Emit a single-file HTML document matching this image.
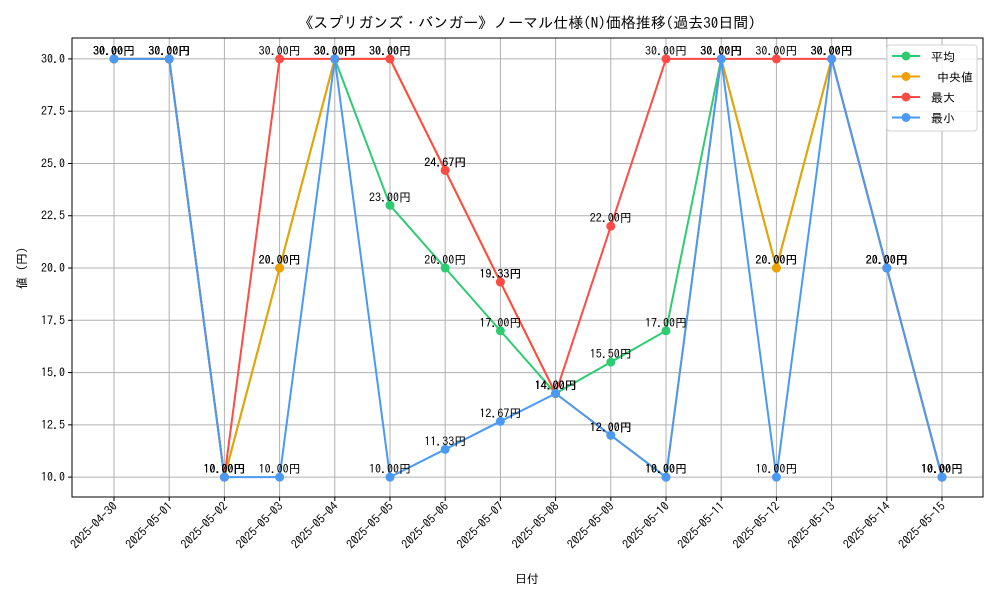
<!DOCTYPE html>
<html><head><meta charset="utf-8"><style>
body{margin:0;background:#fff}
svg{display:block;font-family:"IPAGothic","Noto Sans CJK JP",sans-serif}
</style></head><body>
<svg id="c" width="1000" height="600"></svg>
<script>
const dates=["2025-04-30","2025-05-01","2025-05-02","2025-05-03","2025-05-04","2025-05-05","2025-05-06","2025-05-07","2025-05-08","2025-05-09","2025-05-10","2025-05-11","2025-05-12","2025-05-13","2025-05-14","2025-05-15"];
const meanVals=[30,30,10,20,30,23,20,17,14,15.5,17,30,20,30,20,10];
const medianVals=[30,30,10,20,30,30,24.67,19.33,14,12,10,30,20,30,20,10];
const maxVals=[30,30,10,30,30,30,24.67,19.33,14,22,30,30,30,30,20,10];
const minVals=[30,30,10,10,30,10,11.33,12.67,14,12,10,30,10,30,20,10];
const yTicks=[10,12.5,15,17.5,20,22.5,25,27.5,30];
const seriesNames=["平均"," 中央値","最大","最小"];
const colors=["#2ecc71","#f0a000","#ff4a45","#4a9af5"];
const L=72,R=983,T=38,B=497,ymin=9.05,ymax=31.0;
const X=i=>114+i*(942-114)/(dates.length-1);
const Y=v=>B-(v-ymin)/(ymax-ymin)*(B-T);
const svg=document.getElementById('c');const NS="http://www.w3.org/2000/svg";
function mk(t,a,p){const e=document.createElementNS(NS,t);for(const k in a)e.setAttribute(k,a[k]);(p||svg).appendChild(e);return e;}
mk('rect',{x:L,y:T,width:R-L,height:B-T,fill:'#fff',stroke:'none'});
const grid=mk('g',{});
dates.forEach((d,i)=>{mk('line',{x1:X(i),x2:X(i),y1:T,y2:B,stroke:'#b0b0b0','stroke-width':1},grid);
 mk('line',{x1:X(i),x2:X(i),y1:B,y2:B+4,stroke:'#000'},grid);
 const t=mk('text',{x:X(i)+4,y:B+10,'font-size':12,'text-anchor':'end',transform:`rotate(-45 ${X(i)+4} ${B+10})`});t.textContent=d;
 });
yTicks.forEach(v=>{mk('line',{x1:L,x2:R,y1:Y(v),y2:Y(v),stroke:'#b0b0b0','stroke-width':1},grid);
 mk('line',{x1:L-4,x2:L,y1:Y(v),y2:Y(v),stroke:'#000'},grid);
 const t=mk('text',{x:L-7,y:Y(v)+4,'font-size':12,'text-anchor':'end'});t.textContent=v.toFixed(1);
 });
mk('rect',{x:L,y:T,width:R-L,height:B-T,fill:'none',stroke:'#000','stroke-width':1});
const all=[meanVals,medianVals,maxVals,minVals];
all.forEach((vals,s)=>{const g=mk('g',{});
 mk('polyline',{points:vals.map((v,i)=>X(i)+','+Y(v)).join(' '),fill:'none',stroke:colors[s],'stroke-width':2},g);
 vals.forEach((v,i)=>{const c=mk('circle',{cx:X(i),cy:Y(v),r:4.5,fill:colors[s]},g);});});
all.forEach((vals,s)=>{vals.forEach((v,i)=>{const t=mk('text',{x:X(i),y:Y(v)-4,'font-size':12,'text-anchor':'middle'});t.textContent=v.toFixed(2)+'円';
 });});
let t=mk('text',{x:527,y:28,'font-size':15,'text-anchor':'middle'});t.textContent="《スプリガンズ・バンガー》ノーマル仕様(N)価格推移(過去30日間)";

t=mk('text',{x:527,y:583,'font-size':12,'text-anchor':'middle'});t.textContent="日付";

t=mk('text',{x:26,y:268,'font-size':12,'text-anchor':'middle',transform:'rotate(-90 26 268)'});t.textContent="値 (円)";

const lg=mk('g',{});
mk('rect',{x:887,y:45,width:90,height:86,rx:3,fill:'#fff','fill-opacity':0.85,stroke:'#d0d0d0'},lg);
seriesNames.forEach((n,s)=>{const y=56+s*20.5;
 mk('line',{x1:892,x2:920,y1:y,y2:y,stroke:colors[s],'stroke-width':2},lg);
 mk('circle',{cx:906,cy:y,r:4.5,fill:colors[s]},lg);
 const e=mk('text',{x:931,y:y+5,'font-size':12},lg);e.textContent=n;e.setAttribute('xml:space','preserve');e.style.whiteSpace='pre';
 });
</script>
</body></html>
